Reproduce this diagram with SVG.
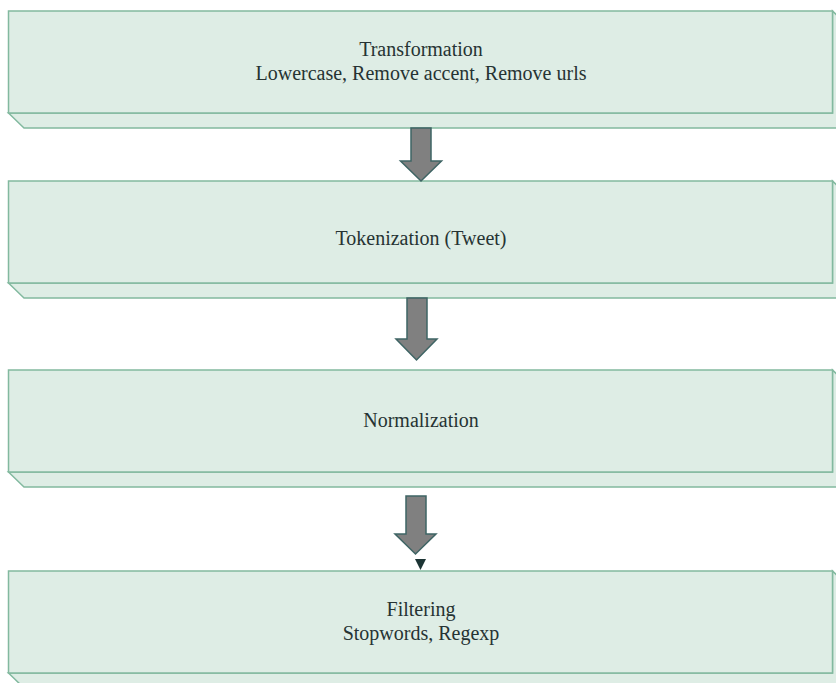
<svg xmlns="http://www.w3.org/2000/svg" width="836" height="683" viewBox="0 0 836 683">
<style>
.box{fill:#deede5;stroke:#82b99f;stroke-width:1.5;stroke-linejoin:miter}
.arr{fill:#808080;stroke:#3e6464;stroke-width:1.5;stroke-linejoin:miter}
.t{font-family:'Liberation Serif','Times New Roman',serif;font-size:20px;fill:#263333;text-anchor:middle}
</style>
<rect width="836" height="683" fill="#ffffff"/>
<g id="node-transformation">
<polygon class="box" points="8.5,113 24,128 848,128 848,26 832.5,11 832.5,113"/>
<rect class="box" x="8.5" y="11" width="824" height="102"/>
<text class="t" x="421" y="56">Transformation</text>
<text class="t" x="421" y="80">Lowercase, Remove accent, Remove urls</text>
</g>
<g id="node-tokenization">
<polygon class="box" points="8.5,283 24,298 848,298 848,196 832.5,181 832.5,283"/>
<rect class="box" x="8.5" y="181" width="824" height="102"/>
<text class="t" x="421" y="245">Tokenization (Tweet)</text>
</g>
<g id="node-normalization">
<polygon class="box" points="8.5,472 24,487 848,487 848,385 832.5,370 832.5,472"/>
<rect class="box" x="8.5" y="370" width="824" height="102"/>
<text class="t" x="421" y="427">Normalization</text>
</g>
<g id="node-filtering">
<polygon class="box" points="8.5,673 24,688 848,688 848,586 832.5,571 832.5,673"/>
<rect class="box" x="8.5" y="571" width="824" height="102"/>
<text class="t" x="421" y="616">Filtering</text>
<text class="t" x="421" y="640">Stopwords, Regexp</text>
</g>
<g id="connectors">
<polygon class="arr" points="411,128 431,128 431,161 441.5,161 421,181 400.5,161 411,161"/>
<polygon class="arr" points="407,298 427,298 427,339 437,339 416.5,360 396,339 407,339"/>
<polygon class="arr" points="406,496 426,496 426,534 436,534 415.5,554 395,534 406,534"/>
<polygon points="415,559 426,559 420.5,570" fill="#1c3434"/>
</g>
</svg>
